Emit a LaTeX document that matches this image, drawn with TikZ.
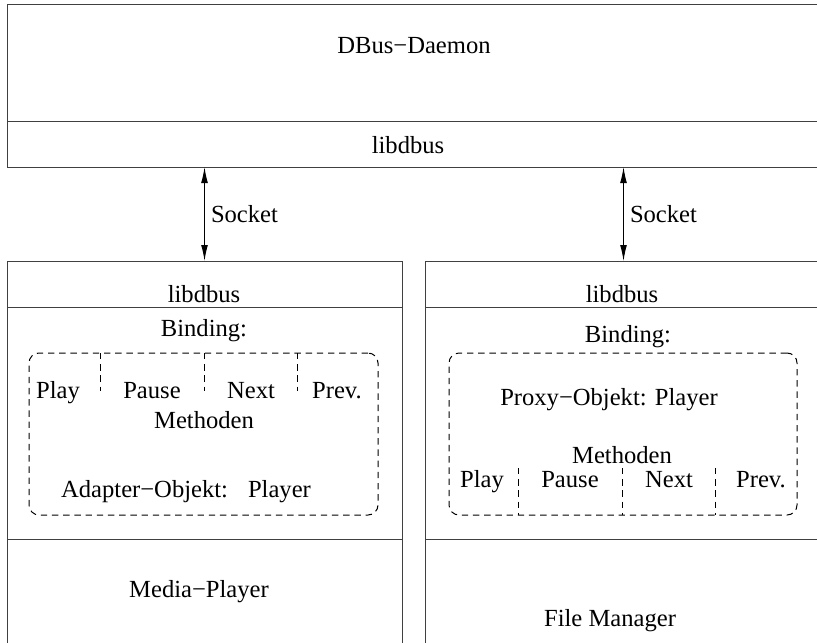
\documentclass[tikz,border=0pt]{standalone}
\usepackage{fontspec}
\setmainfont{Liberation Serif}
\usetikzlibrary{positioning,arrows.meta}
\begin{document}
\begin{tikzpicture}[x=0.5pt,y=-0.5pt,
    font=\fontsize{12.3}{15}\selectfont,
    box/.style={draw=black!75,line width=0.5pt,rectangle,inner sep=0pt,outer sep=0pt,anchor=north west},
    lbl/.style={anchor=base,inner sep=0pt},
    sock/.style={{Latex[length=8pt,width=3.4pt]}-{Latex[length=8pt,width=3.4pt]},line width=0.5pt},
    grp/.style={draw,dash pattern=on 3.2pt off 2.4pt,rounded corners=5pt,line width=0.5pt,
        rectangle,inner sep=0pt,outer sep=0pt,anchor=north west},
    sep/.style={dash pattern=on 3.2pt off 2.4pt,line width=0.5pt}]
	\useasboundingbox (0,0) rectangle (817,642);
	\clip (0,0) rectangle (817,642);
	% daemon
	\node[box,minimum width=411.5pt,minimum height=58pt] (daemon) at (7,5) {};
	\node[box,minimum width=411.5pt,minimum height=23pt,below=0pt of daemon] (dlib) {};
	\node[lbl] (dname) at (414,54) {DBus−Daemon};
	\node[lbl] (dlibtxt) at (408,153) {libdbus};
	% media player
	\node[box,minimum width=197.5pt,minimum height=23pt] (mlib) at (7,261) {};
	\node[box,minimum width=197.5pt,minimum height=116pt,below=0pt of mlib] (mbind) {};
	\node[box,minimum width=197.5pt,minimum height=80pt,below=0pt of mbind] (mapp) {};
	\node[lbl] (mlibtxt) at (204,302) {libdbus};
	\node[lbl] (mbindtxt) at (204,336) {Binding:};
	\node[grp,minimum width=174.5pt,minimum height=81pt] (madapter) at (29,353) {};
	\foreach \x in {100,204,297}
		\draw[sep] (\x,353) -- (\x,391);
	\foreach \x/\m [count=\i] in {58/Play,152/Pause,251/Next,337/Prev.}
		\node[lbl] (mm\i) at (\x,398) {\m};
	\node[lbl] (mmeth) at (204,428) {Methoden};
	\node[lbl] (madtxt) at (186,497) {Adapter−Objekt:\hspace{10pt}Player};
	\node[lbl] (mapptxt) at (199,597) {Media−Player};
	% file manager
	\node[box,minimum width=198.5pt,minimum height=23pt] (flib) at (425,261) {};
	\node[box,minimum width=198.5pt,minimum height=116pt,below=0pt of flib] (fbind) {};
	\node[box,minimum width=198.5pt,minimum height=80pt,below=0pt of fbind] (fapp) {};
	\node[lbl] (flibtxt) at (622,302) {libdbus};
	\node[lbl] (fbindtxt) at (628,342) {Binding:};
	\node[grp,minimum width=174pt,minimum height=81pt] (fproxy) at (449,353) {};
	\node[lbl] (fprtxt) at (609,405) {Proxy−Objekt: Player};
	\node[lbl] (fmeth) at (622,463) {Methoden};
	\foreach \x in {518,622,715}
		\draw[sep] (\x,468) -- (\x,515);
	\foreach \x/\m [count=\i] in {482/Play,570/Pause,669/Next,761/Prev.}
		\node[lbl] (fm\i) at (\x,487) {\m};
	\node[lbl] (fapptxt) at (610,626) {File Manager};
	% sockets
	\draw[sock] (dlib.south -| mlib.north) -- (mlib.north) node[midway,right=2pt,inner sep=1pt] {Socket};
	\draw[sock] (dlib.south -| flib.north) -- (flib.north) node[midway,right=2pt,inner sep=1pt] {Socket};
\end{tikzpicture}
\end{document}
